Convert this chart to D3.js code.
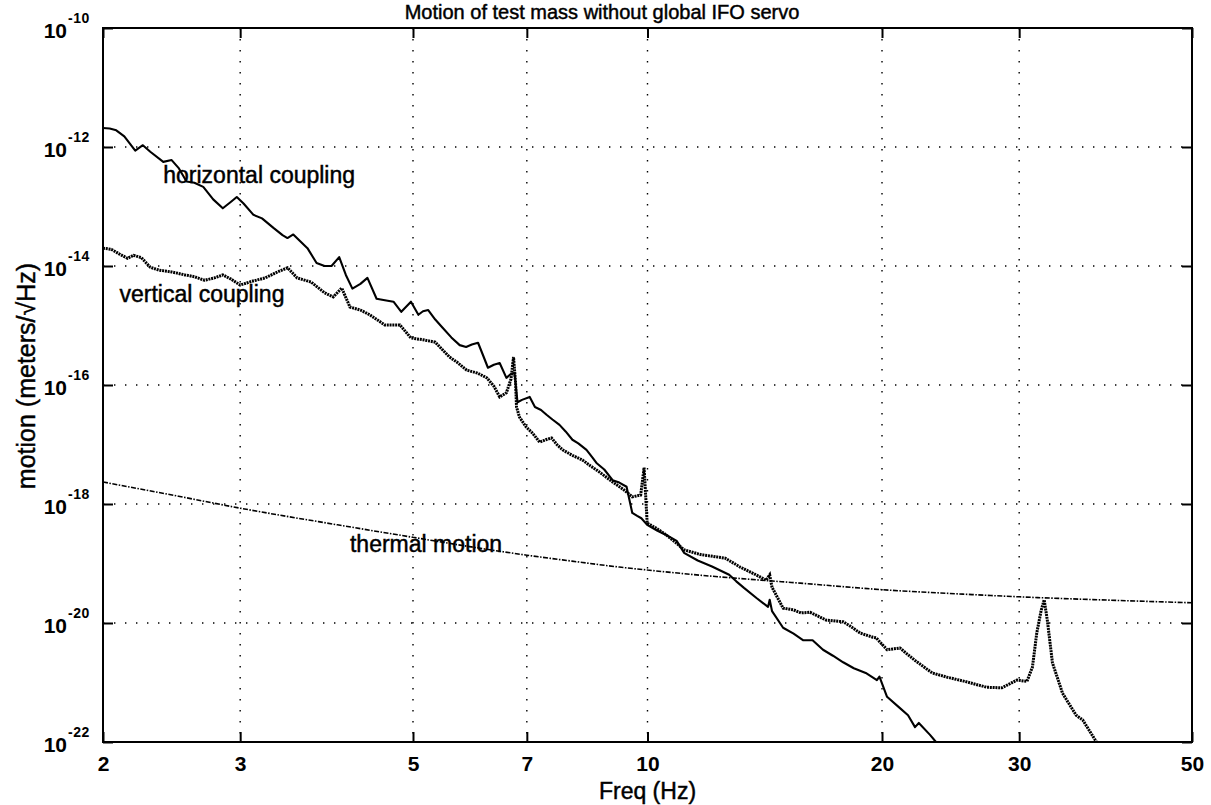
<!DOCTYPE html>
<head>
<meta charset="utf-8">
<title>Motion of test mass without global IFO servo</title>
<script src="https://d3js.org/d3.v7.min.js"></script>
<style>
  body { margin: 0; background: #fff; }
  svg text { font-family: "Liberation Sans", Arial, Helvetica, sans-serif; fill: #000; }
  .tick text { font-weight: bold; font-size: 21px; }
  .lbl { stroke: #000; stroke-width: 0.45px; }
</style>
</head>
<body>
<div id="chart"></div>
<script>
//------------------------------ DATA ------------------------------//
// x values in Hz, y values as log10(meters/sqrt(Hz))
const freqTicks = [2, 3, 5, 7, 10, 20, 30, 50];
const expTicks = [-10, -12, -14, -16, -18, -20, -22];
const gridFreqs = [3, 5, 7, 10, 20, 30];
const gridExps = [-12, -14, -16, -18, -20];

const horizontalFreq = [2.00, 2.04, 2.08, 2.13, 2.20, 2.25, 2.30, 2.39, 2.45, 2.50, 2.56, 2.62, 2.69, 2.77, 2.85, 2.92, 2.97, 3.03, 3.12, 3.20,
  3.31, 3.40, 3.45, 3.51, 3.58, 3.66, 3.76, 3.85, 3.93, 4.02, 4.10, 4.18, 4.28, 4.37, 4.49, 4.62, 4.72, 4.83, 4.97, 5.08,
  5.15, 5.23, 5.34, 5.45, 5.60, 5.74, 5.85, 5.95, 6.06, 6.15, 6.24, 6.35, 6.46, 6.59, 6.67, 6.75, 6.81, 6.90, 7.06, 7.17,
  7.30, 7.42, 7.55, 7.71, 7.85, 8.01, 8.15, 8.35, 8.50, 8.60, 8.80, 9.02, 9.20, 9.40, 9.56, 9.70, 9.82, 9.99, 10.3, 10.57,
  10.9, 11.14, 11.6, 12.1, 12.73, 13.0, 13.3, 13.8, 14.28, 14.35, 14.45, 14.93, 15.4, 15.85, 16.29, 16.8, 17.3, 17.83, 18.4, 19.06,
  19.7, 19.85, 20.3, 21.09, 21.6, 22.05, 22.3, 23.05, 23.46, 23.8];
const horizontalExp = [-11.68, -11.69, -11.72, -11.82, -12.06, -11.97, -12.08, -12.25, -12.22, -12.35, -12.58, -12.60, -12.67, -12.88, -13.03, -12.92, -12.84, -12.95, -13.14, -13.20,
  -13.36, -13.48, -13.53, -13.47, -13.58, -13.70, -13.95, -14.00, -14.00, -13.85, -14.15, -14.38, -14.30, -14.20, -14.55, -14.58, -14.60, -14.77, -14.60, -14.82,
  -14.76, -14.74, -14.90, -15.03, -15.20, -15.33, -15.36, -15.32, -15.29, -15.50, -15.71, -15.66, -15.63, -15.88, -15.82, -15.80, -16.29, -16.25, -16.20, -16.37,
  -16.42, -16.50, -16.58, -16.67, -16.78, -16.92, -16.98, -17.09, -17.22, -17.31, -17.42, -17.60, -17.64, -17.71, -18.15, -18.20, -18.24, -18.35, -18.45, -18.52,
  -18.62, -18.82, -18.95, -19.05, -19.19, -19.30, -19.41, -19.58, -19.73, -19.61, -19.80, -20.08, -20.18, -20.29, -20.29, -20.45, -20.55, -20.66, -20.76, -20.84,
  -20.96, -20.90, -21.24, -21.43, -21.55, -21.75, -21.68, -21.88, -22.0, -22.1];

const verticalFreq = [2.00, 2.05, 2.10, 2.15, 2.19, 2.24, 2.30, 2.36, 2.45, 2.55, 2.62, 2.70, 2.78, 2.85, 2.92, 3.00, 3.10, 3.23, 3.35, 3.45,
  3.55, 3.70, 3.85, 3.95, 4.05, 4.15, 4.28, 4.40, 4.60, 4.81, 4.97, 5.15, 5.34, 5.57, 5.70, 5.86, 6.05, 6.22, 6.35, 6.46,
  6.59, 6.68, 6.73, 6.77, 6.79, 6.85, 6.98, 7.12, 7.27, 7.40, 7.53, 7.65, 7.78, 8.00, 8.25, 8.45, 8.67, 9.02, 9.30, 9.56,
  9.80, 9.90, 9.95, 9.99, 10.3, 10.57, 10.9, 11.14, 11.7, 12.58, 13.15, 13.78, 14.2, 14.35, 14.45, 14.93, 15.4, 15.74, 16.17, 16.95,
  17.83, 18.2, 18.75, 19.47, 19.66, 20.3, 21.09, 22.0, 23.2, 24.24, 25.7, 27.25, 28.5, 29.8, 30.7, 31.2, 31.6, 32.0, 32.3, 32.6,
  33.1, 34.1, 35.5, 36.2, 37.7, 38.2];
const verticalExp = [-13.70, -13.72, -13.80, -13.87, -13.82, -13.86, -14.02, -14.07, -14.10, -14.15, -14.18, -14.24, -14.20, -14.15, -14.22, -14.32, -14.26, -14.20, -14.10, -14.03,
  -14.20, -14.27, -14.45, -14.52, -14.37, -14.69, -14.74, -14.82, -14.99, -14.99, -15.21, -15.24, -15.28, -15.53, -15.62, -15.75, -15.80, -15.88, -16.02, -16.20,
  -16.13, -15.90, -15.53, -15.95, -16.37, -16.54, -16.70, -16.81, -16.96, -16.92, -16.89, -17.00, -17.09, -17.18, -17.26, -17.36, -17.46, -17.63, -17.75, -17.88,
  -17.85, -17.39, -17.90, -18.32, -18.42, -18.52, -18.66, -18.77, -18.85, -18.91, -19.06, -19.19, -19.28, -19.19, -19.40, -19.75, -19.78, -19.83, -19.82, -19.95,
  -19.98, -20.05, -20.17, -20.24, -20.25, -20.45, -20.42, -20.62, -20.84, -20.91, -20.99, -21.08, -21.09, -20.96, -20.98, -20.74, -20.17, -19.80, -19.61, -19.95,
  -20.67, -21.18, -21.55, -21.63, -22.0, -22.1];

const thermalFreq = [2, 2.5, 3, 4, 5, 6, 7, 8, 9.2, 10, 12, 14, 15.7, 20, 25, 30, 40, 50];
const thermalExp = [-17.63, -17.87, -18.07, -18.35, -18.56, -18.73, -18.86, -18.96, -19.06, -19.11, -19.21, -19.28, -19.33, -19.44, -19.51, -19.56, -19.62, -19.66];

//------------------------------ SVG -------------------------------//
const fullW = 1211, fullH = 805;
const margin = {top: 28, right: 19, bottom: 63, left: 103};
const width = fullW - margin.left - margin.right,
      height = fullH - margin.top - margin.bottom;

const svg = d3.select("#chart").append("svg")
    .attr("width", fullW)
    .attr("height", fullH);

const g = svg.append("g")
    .attr("transform", "translate(" + margin.left + "," + margin.top + ")");

//----------------------------- SCALES -----------------------------//
const x = d3.scaleLog().domain([2, 50]).range([0, width]);
const y = d3.scaleLog().domain([1e-22, 1e-10]).range([height, 0]);

//------------------------------ GRID ------------------------------//
g.append("g").selectAll("line")
  .data(gridFreqs)
  .join("line")
    .attr("x1", d => x(d)).attr("x2", d => x(d))
    .attr("y1", 0).attr("y2", height)
    .attr("stroke", "#000")
    .attr("stroke-width", 1.4)
    .attr("stroke-dasharray", "1.4,9.6");

g.append("g").selectAll("line")
  .data(gridExps)
  .join("line")
    .attr("x1", 0).attr("x2", width)
    .attr("y1", d => y(Math.pow(10, d))).attr("y2", d => y(Math.pow(10, d)))
    .attr("stroke", "#000")
    .attr("stroke-width", 1.4)
    .attr("stroke-dasharray", "1.4,9.6");

//------------------------------ AXES ------------------------------//
const expVals = expTicks.map(e => Math.pow(10, e));

const xAxis = g.append("g")
    .attr("transform", "translate(0," + height + ")")
    .call(d3.axisBottom(x).tickValues(freqTicks).tickFormat(d3.format("d"))
      .tickSizeInner(-10).tickSizeOuter(0).tickPadding(14));
g.append("g")
    .call(d3.axisTop(x).tickValues(freqTicks).tickFormat("")
      .tickSizeInner(-10).tickSizeOuter(0));
g.append("g")
    .call(d3.axisLeft(y).tickValues(expVals).tickFormat("")
      .tickSizeInner(-10).tickSizeOuter(0));
g.append("g")
    .attr("transform", "translate(" + width + ",0)")
    .call(d3.axisRight(y).tickValues(expVals).tickFormat("")
      .tickSizeInner(-10).tickSizeOuter(0));

g.selectAll(".domain").remove();
g.selectAll(".tick line").attr("stroke", "#000").attr("stroke-width", 2);
xAxis.selectAll(".tick text").attr("fill", "#000");

// y tick labels as 10 with superscript exponent
const yLab = g.append("g");
expTicks.forEach(function(e) {
  const yy = y(Math.pow(10, e));
  yLab.append("text")
      .attr("x", -36).attr("y", yy + 9.5)
      .attr("text-anchor", "end")
      .style("font-size", "21px").style("font-weight", "bold")
      .text("10");
  yLab.append("text")
      .attr("x", -35).attr("y", yy - 5)
      .style("font-size", "14px").style("font-weight", "bold")
      .style("letter-spacing", "0.5px")
      .text(String(e));
});

//------------------------------ LINES -----------------------------//
svg.append("defs").append("clipPath").attr("id", "clip")
  .append("rect").attr("width", width).attr("height", height);

const line = d3.line()
    .x(d => x(d[0]))
    .y(d => y(Math.pow(10, d[1])));

const zip = (fs, es) => fs.map((f, i) => [f, es[i]]);

const plot = g.append("g").attr("clip-path", "url(#clip)");

plot.append("path")
    .datum(zip(thermalFreq, thermalExp))
    .attr("fill", "none")
    .attr("stroke", "#000")
    .attr("stroke-width", 1.6)
    .attr("stroke-dasharray", "5,1.5,1.5,1.5")
    .attr("d", line.curve(d3.curveMonotoneX));

line.curve(d3.curveLinear);

plot.append("path")
    .datum(zip(horizontalFreq, horizontalExp))
    .attr("fill", "none")
    .attr("stroke", "#000")
    .attr("stroke-width", 2.1)
    .attr("stroke-linejoin", "round")
    .attr("d", line);

plot.append("path")
    .datum(zip(verticalFreq, verticalExp))
    .attr("fill", "none")
    .attr("stroke", "#000")
    .attr("stroke-width", 3)
    .attr("stroke-dasharray", "2,0.8")
    .attr("d", line);

// frame
g.append("rect")
    .attr("width", width).attr("height", height)
    .attr("fill", "none")
    .attr("stroke", "#000")
    .attr("stroke-width", 2);

//------------------------------ TEXT ------------------------------//
const labels = [
  {text: "horizontal coupling", f: 2.39, e: -12.6},
  {text: "vertical coupling", f: 2.10, e: -14.6},
  {text: "thermal motion", f: 4.15, e: -18.81}
];
g.append("g").selectAll("text")
  .data(labels)
  .join("text")
    .attr("class", "lbl")
    .attr("x", d => x(d.f))
    .attr("y", d => y(Math.pow(10, d.e)))
    .style("font-size", "23px")
    .text(d => d.text);

svg.append("text")
    .attr("class", "lbl")
    .attr("x", 602).attr("y", 19)
    .attr("text-anchor", "middle")
    .style("font-size", "20px")
    .text("Motion of test mass without global IFO servo");

svg.append("text")
    .attr("class", "lbl")
    .attr("x", margin.left + width / 2).attr("y", 799)
    .attr("text-anchor", "middle")
    .style("font-size", "23px")
    .text("Freq (Hz)");

svg.append("text")
    .attr("class", "lbl")
    .attr("transform", "translate(35," + 376 + ") rotate(-90)")
    .attr("text-anchor", "middle")
    .style("font-size", "25px")
    .text("motion (meters/\u221AHz)");
</script>
</body>
